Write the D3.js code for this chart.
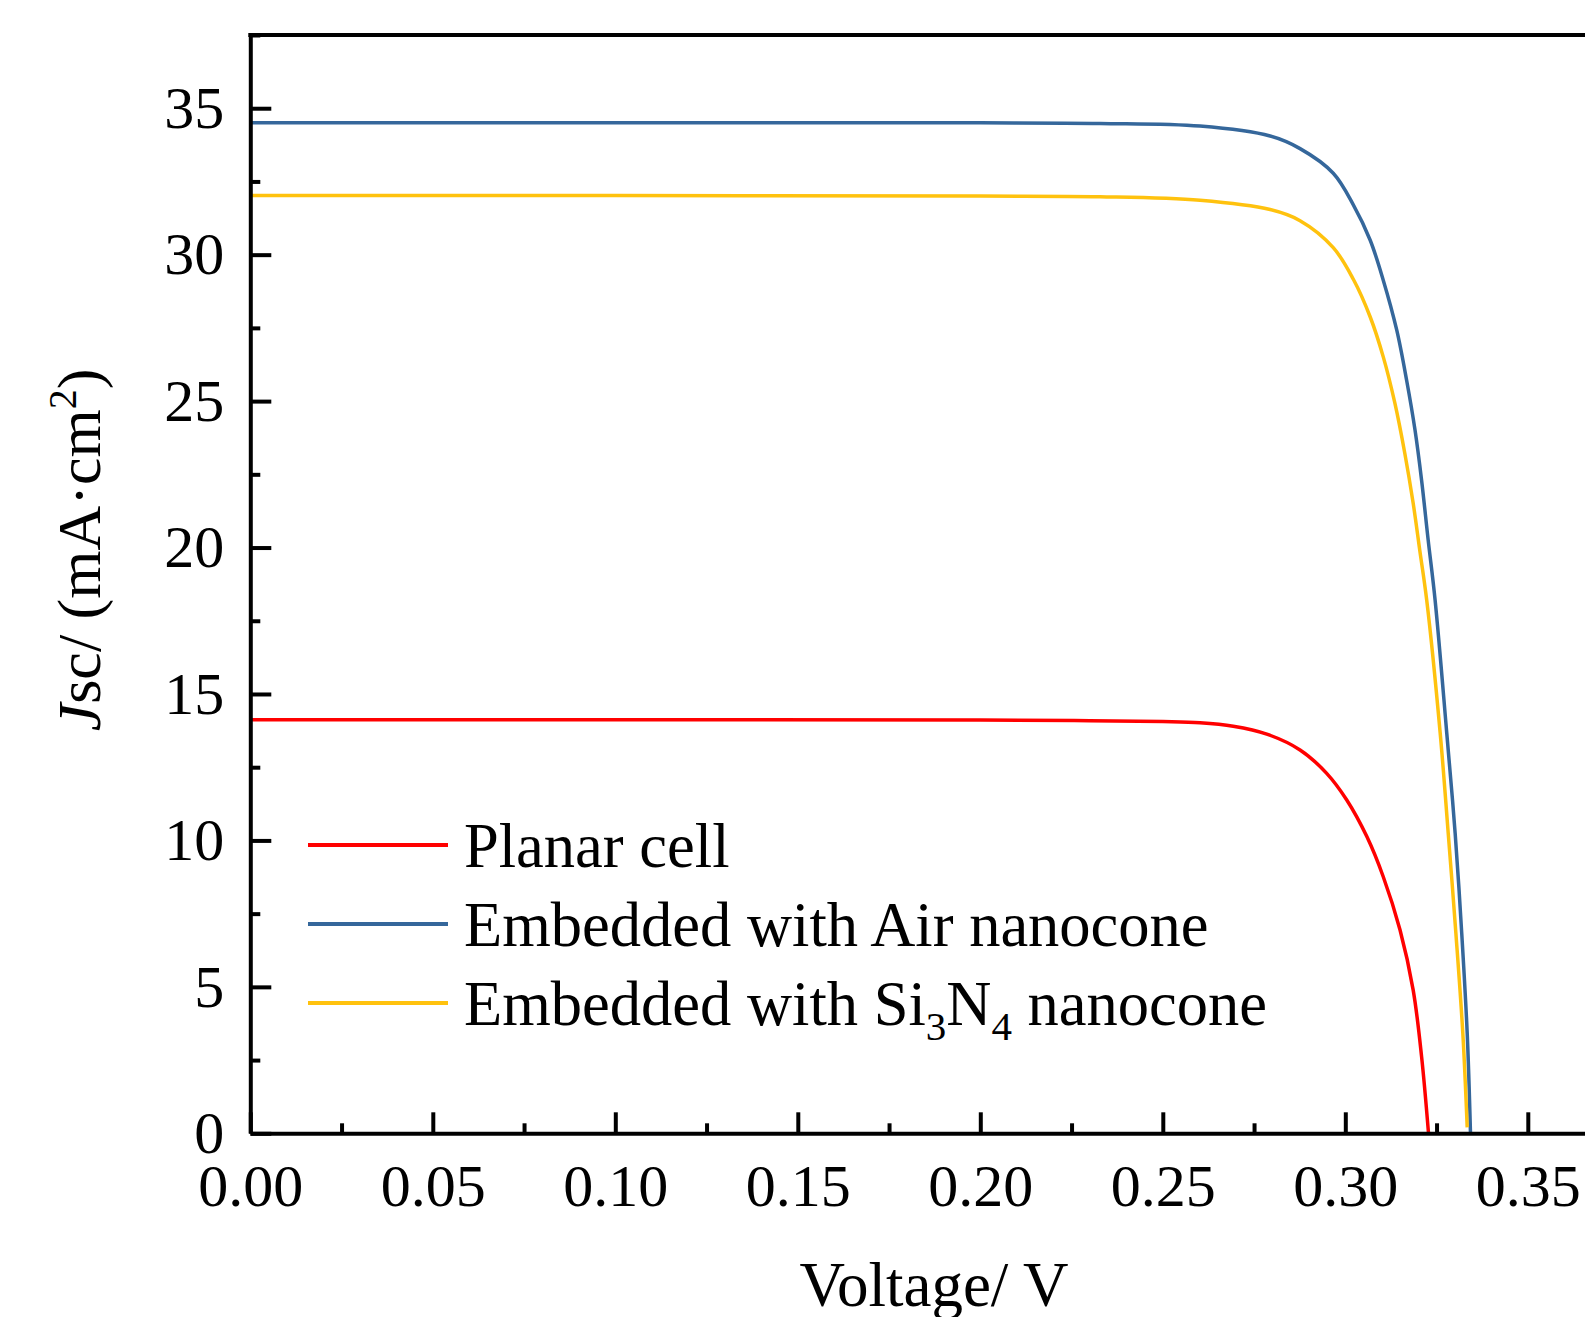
<!DOCTYPE html>
<html>
<head>
<meta charset="utf-8">
<script src="https://cdn.jsdelivr.net/npm/d3@7"></script>
<style>
  body { margin: 0; background: #fff; }
  svg { display: block; }
  text { font-family: "Liberation Serif", "Times New Roman", serif; fill: #000; }
  .tick text { font-size: 60px; }
  .axis path, .axis line { stroke: #000; stroke-width: 4; }
</style>
</head>
<body>
<script>
// values (voltage in V, current density in mA/cm2)
var planar_v = [0, 0.10, 0.20, 0.23, 0.25, 0.2602, 0.2693, 0.2785, 0.2876, 0.2949, 0.3004, 0.3059, 0.3104, 0.3150, 0.3186, 0.3209, 0.3228];
var planar_j = [14.12, 14.12, 14.11, 14.09, 14.06, 14.02, 13.90, 13.63, 13.09, 12.29, 11.38, 10.13, 8.76, 6.94, 4.89, 2.62, 0];

var air_v = [0, 0.10, 0.20, 0.2328, 0.2602, 0.2794, 0.2876, 0.2967, 0.3022, 0.3068, 0.3104, 0.3141, 0.3168, 0.3191, 0.3209, 0.3227, 0.3246, 0.3278, 0.3301, 0.3319, 0.3334, 0.3343];
var air_j = [34.50, 34.50, 34.50, 34.48, 34.39, 34.05, 33.62, 32.78, 31.70, 30.50, 29.13, 27.42, 25.71, 24.01, 22.30, 20.26, 18.21, 13.66, 10.24, 6.83, 3.41, 0];

var sin_v = [0, 0.10, 0.20, 0.2328, 0.2602, 0.2794, 0.2876, 0.2967, 0.3022, 0.3068, 0.3104, 0.3136, 0.3163, 0.3186, 0.3204, 0.3223, 0.3260, 0.3282, 0.3303, 0.3322, 0.3334];
var sin_j = [32.02, 32.02, 32.00, 31.98, 31.86, 31.54, 31.16, 30.24, 29.16, 27.88, 26.51, 24.92, 23.22, 21.51, 19.91, 18.21, 13.66, 10.24, 6.83, 3.41, 0.2];

var series_names = ["Planar cell", "Embedded with Air nanocone", "Embedded with Si3N4 nanocone"];
var series_colors = ["#ff0000", "#35679b", "#ffc20e"];

var x_major = [0, 0.05, 0.10, 0.15, 0.20, 0.25, 0.30, 0.35];
var x_minor = [0.025, 0.075, 0.125, 0.175, 0.225, 0.275, 0.325];
var y_major = [0, 5, 10, 15, 20, 25, 30, 35];
var y_minor = [2.5, 7.5, 12.5, 17.5, 22.5, 27.5, 32.5, 37.5];

var width = 1585, height = 1317;
var plot_left = 250.3, plot_bottom = 1133.3, plot_top = 35;

var svg = d3.select("body").append("svg")
    .attr("width", width)
    .attr("height", height);

var x = d3.scaleLinear().domain([0, 0.37]).range([plot_left, plot_left + 0.37 * 3650]);
var y = d3.scaleLinear().domain([0, 37.5]).range([plot_bottom, plot_top]);

// curves
function pairs(vs, js) { return vs.map(function(v, i) { return [v, js[i]]; }); }
var all_series = [pairs(planar_v, planar_j), pairs(air_v, air_j), pairs(sin_v, sin_j)];

var line = d3.line()
    .x(function(d) { return x(d[0]); })
    .y(function(d) { return y(d[1]); })
    .curve(d3.curveCatmullRom.alpha(0.5));

svg.selectAll(".curve")
    .data(all_series)
    .enter().append("path")
    .attr("class", "curve")
    .attr("d", line)
    .attr("fill", "none")
    .attr("stroke", function(d, i) { return series_colors[i]; })
    .attr("stroke-width", 3.5);

// axes, ticks point inward
svg.append("g")
    .attr("class", "axis")
    .attr("transform", "translate(0," + plot_bottom + ")")
    .call(d3.axisBottom(x).tickValues(x_major).tickFormat(d3.format(".2f"))
        .tickSizeInner(-21).tickSizeOuter(0).tickPadding(30));

svg.append("g")
    .attr("class", "axis")
    .attr("transform", "translate(0," + plot_bottom + ")")
    .call(d3.axisBottom(x).tickValues(x_minor).tickFormat("").tickSizeInner(-10).tickSizeOuter(0))
    .select(".domain").remove();

svg.append("g")
    .attr("class", "axis")
    .attr("transform", "translate(" + plot_left + ",0)")
    .call(d3.axisLeft(y).tickValues(y_major).tickFormat(d3.format("d"))
        .tickSizeInner(-21).tickSizeOuter(0).tickPadding(26));

svg.append("g")
    .attr("class", "axis")
    .attr("transform", "translate(" + plot_left + ",0)")
    .call(d3.axisLeft(y).tickValues(y_minor).tickFormat("").tickSizeInner(-10).tickSizeOuter(0))
    .select(".domain").remove();

svg.selectAll(".tick text").attr("font-size", 60).attr("font-family", null);

// top border
svg.append("line")
    .attr("x1", plot_left - 2).attr("x2", width)
    .attr("y1", plot_top).attr("y2", plot_top)
    .attr("stroke", "#000").attr("stroke-width", 4);

// axis titles
svg.append("text")
    .attr("x", 934)
    .attr("y", 1306)
    .attr("text-anchor", "middle")
    .attr("font-size", 63)
    .text("Voltage/ V");

var ytitle = svg.append("text")
    .attr("transform", "translate(100,550) rotate(-90)")
    .attr("text-anchor", "middle")
    .attr("font-size", 62);
ytitle.append("tspan").attr("font-style", "italic").text("J");
ytitle.append("tspan").text("sc/ (mA\u00b7cm");
ytitle.append("tspan").attr("font-size", 40).attr("dy", -24).text("2");
ytitle.append("tspan").attr("dy", 24).text(")");

// legend
var legend_y = [845, 924, 1003];
var legend = svg.selectAll(".legend")
    .data(series_names)
    .enter().append("g")
    .attr("class", "legend")
    .attr("transform", function(d, i) { return "translate(0," + legend_y[i] + ")"; });

legend.append("line")
    .attr("x1", 308).attr("x2", 448)
    .attr("y1", 0).attr("y2", 0)
    .attr("stroke", function(d, i) { return series_colors[i]; })
    .attr("stroke-width", 4);

legend.append("text")
    .attr("x", 464)
    .attr("y", 22)
    .attr("font-size", 62.5)
    .each(function(d) {
        var t = d3.select(this);
        if (d.indexOf("Si3N4") < 0) { t.text(d); return; }
        t.append("tspan").text("Embedded with Si");
        t.append("tspan").attr("font-size", 41).attr("dy", 15).text("3");
        t.append("tspan").attr("dy", -15).text("N");
        t.append("tspan").attr("font-size", 41).attr("dy", 15).text("4");
        t.append("tspan").attr("dy", -15).text(" nanocone");
    });
</script>
</body>
</html>
